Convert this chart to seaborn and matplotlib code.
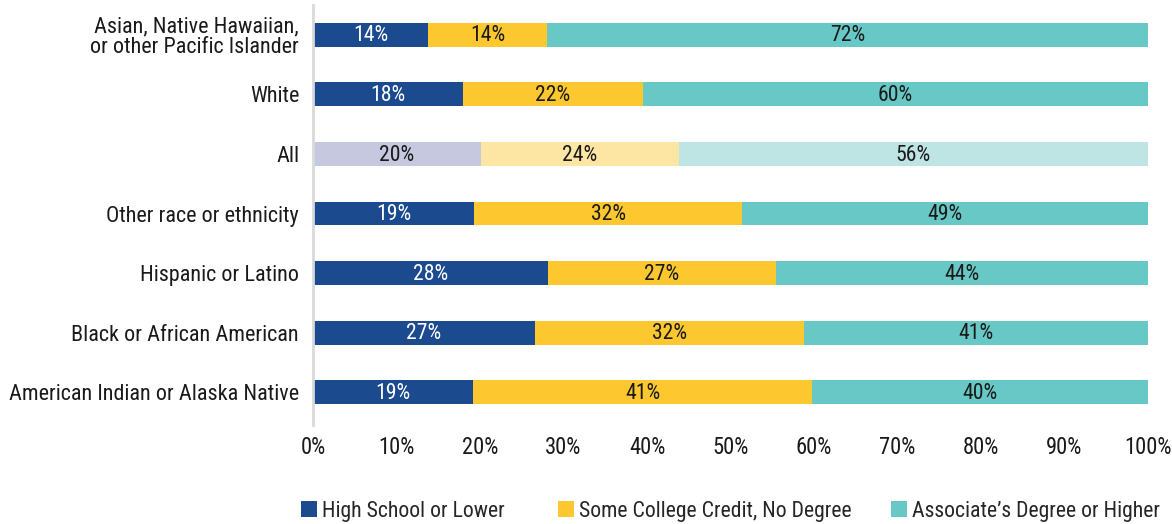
import matplotlib
matplotlib.use("Agg")
import matplotlib.pyplot as plt
from matplotlib import font_manager
from matplotlib.patches import Patch
import seaborn as sns
import pandas as pd

categories = ["Asian, Native Hawaiian,\nor other Pacific Islander", "White", "All",
              "Other race or ethnicity", "Hispanic or Latino",
              "Black or African American", "American Indian or Alaska Native"]
# segment shares as drawn (bar lengths)
high_school = [13.8, 18.0, 20.1, 19.3, 28.1, 26.6, 19.2]
some_college = [14.2, 21.5, 23.7, 32.1, 27.3, 32.2, 40.6]
associates = [72.0, 60.5, 56.2, 48.6, 44.6, 41.2, 40.2]
# printed labels
high_school_lbl = [14, 18, 20, 19, 28, 27, 19]
some_college_lbl = [14, 22, 24, 32, 27, 32, 41]
associates_lbl = [72, 60, 56, 49, 44, 41, 40]
series_names = ["High School or Lower", "Some College Credit, No Degree",
                "Associate\u2019s Degree or Higher"]
tick_values = [0, 10, 20, 30, 40, 50, 60, 70, 80, 90, 100]

colors = ["#1b4a8e", "#fdc72f", "#68c8c5"]
light_colors = ["#c6c8e0", "#fde6a4", "#bfe4e4"]
highlight = "All"

sns.set_theme(style="white")

# pick a condensed face if one is installed
cond_fam = None
for f in font_manager.fontManager.ttflist:
    st = str(f.stretch)
    if ("Condensed" in f.name or "Narrow" in f.name or st in ("condensed", "semi-condensed")) \
            and f.style == "normal" and f.weight in (400, "normal", "regular"):
        if cond_fam is None or "Roboto" in f.name:
            cond_fam = (f.name, st)
if cond_fam is not None and cond_fam[1] in ("condensed", "semi-condensed") \
        and "Condensed" not in cond_fam[0] and "Narrow" not in cond_fam[0]:
    plt.rcParams["font.family"] = [cond_fam[0], "DejaVu Sans"]
    plt.rcParams["font.stretch"] = cond_fam[1]
    scale = 1.12
elif cond_fam is not None:
    plt.rcParams["font.family"] = [cond_fam[0], "DejaVu Sans"]
    scale = 1.12
else:
    plt.rcParams["font.family"] = ["Roboto", "DejaVu Sans"]
    scale = 1.0

fs_cat = 14.2 * scale
fs_tick = 14.5 * scale
fs_bar = 14 * scale
fs_leg = 14 * scale

df = pd.DataFrame({"cat": categories, "hs": high_school, "sc": some_college, "as": associates})
df["c1"] = df["hs"]
df["c2"] = df["hs"] + df["sc"]
df["c3"] = df["hs"] + df["sc"] + df["as"]

fig = plt.figure(figsize=(11.72, 5.24), dpi=100)
ax = fig.add_axes([313/1172, 1-425/524, (1148-313)/1172, 420/524])

layers = [("c3", 2), ("c2", 1), ("c1", 0)]
hi_idx = categories.index(highlight)
for col, ci in layers:
    n_before = len(ax.patches)
    sns.barplot(data=df, x=col, y="cat", orient="h", color=colors[ci], width=0.4,
                saturation=1, ax=ax, linewidth=0)
    new = ax.patches[n_before:]
    new[hi_idx].set_facecolor(light_colors[ci])

labels = [high_school_lbl, some_college_lbl, associates_lbl]
for i in range(len(categories)):
    starts = [0, df["c1"][i], df["c2"][i]]
    vals = [df["hs"][i], df["sc"][i], df["as"][i]]
    for j in range(3):
        tc = "white" if (j == 0 and i != hi_idx) else "#1a1a1a"
        ax.text(starts[j] + vals[j] / 2, i + 0.02, f"{labels[j][i]}%", ha="center", va="center",
                fontsize=fs_bar, color=tc)

ax.set_xlim(0, 100)
ax.set_ylim(6.55, -0.5)
ax.set_xticks(tick_values)
ax.set_xticklabels([f"{v}%" for v in tick_values], fontsize=fs_tick, color="#1a1a1a")
ax.tick_params(axis="x", length=0, pad=8)
ax.tick_params(axis="y", length=0, pad=10, labelsize=fs_cat, labelcolor="#1a1a1a")
for t in ax.get_yticklabels():
    t.set_linespacing(1.0)
ax.set_xlabel("")
ax.set_ylabel("")
for s in ["top", "right", "bottom"]:
    ax.spines[s].set_visible(False)
ax.spines["left"].set_color("#d9d9d9")
ax.spines["left"].set_linewidth(2)

sq_x = [301, 558, 891]
for c, name, x in zip(colors, series_names, sq_x):
    fig.legend([Patch(facecolor=c, edgecolor="none")], [name], loc="center left",
               bbox_to_anchor=(x / 1172, 1 - 511 / 524), frameon=False, fontsize=fs_leg,
               handlelength=0.75, handleheight=0.75, handletextpad=0.2,
               borderpad=0, borderaxespad=0)

fig.savefig("out.png", dpi=100)
